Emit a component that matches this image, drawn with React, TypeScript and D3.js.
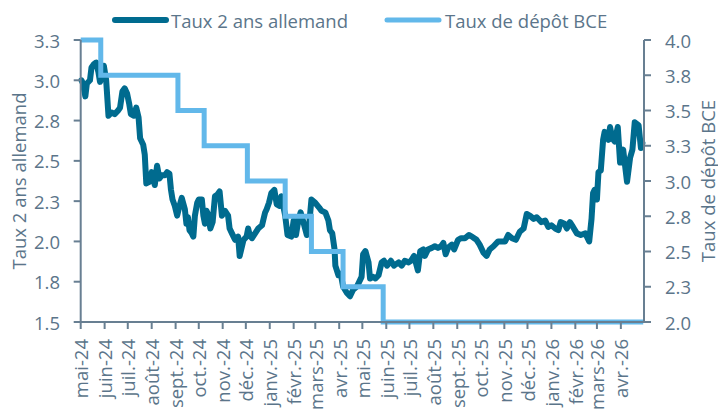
import React from "react";
import * as d3 from "d3";

// ---------- data ----------
const startDate = new Date(2024, 4, 1);
const endDate = new Date(2026, 4, 1);

// days since 1 May 2024
const yieldDays = [
  1, 3, 6, 8, 12, 14, 17, 20, 23, 25, 28, 30, 33, 36, 40, 44, 48, 51, 54, 57,
  60, 63, 65, 69, 72, 75, 77, 81, 83, 85, 89, 92, 94, 96, 99, 102, 105, 109, 112, 115,
  117, 119, 122, 125, 128, 131, 135, 137, 139, 141, 144, 146, 148, 151, 153, 157, 159, 161, 163, 165,
  168, 171, 174, 177, 180, 183, 187, 191, 193, 196, 200, 204, 206, 208, 211, 215, 217, 219, 222, 226,
  230, 235, 239, 241, 244, 247, 251, 254, 258, 260, 265, 268, 273, 276, 279, 282, 285, 288, 293, 296,
  299, 304, 309, 312, 317, 321, 323, 326, 329, 330, 334, 337, 340, 345, 349, 353, 358, 362, 364, 366,
  369, 373, 375, 379, 382, 386, 390, 393, 397, 402, 406, 412, 416, 420, 425, 428, 432, 437, 440, 444,
  446, 450, 455, 459, 463, 467, 470, 473, 476, 481, 484, 489, 493, 498, 503, 507, 510, 513, 517, 522,
  526, 530, 535, 541, 543, 550, 554, 559, 564, 569, 574, 578, 582, 587, 591, 597, 602, 606, 610, 615,
  619, 622, 627, 630, 634, 638, 643, 648, 654, 659, 662, 664, 666, 669, 671, 674, 677, 679, 684, 686,
  689, 692, 696, 699, 703, 708, 712, 715, 718, 723, 726, 728,
];
const yieldValues = [
  3.0, 2.98, 2.9, 2.98, 3.0, 3.08, 3.1, 3.11, 3.05, 2.99, 3.02, 3.09, 3.0, 2.78, 2.8, 2.79, 2.81, 2.83, 2.93, 2.95,
  2.92, 2.85, 2.79, 2.78, 2.83, 2.77, 2.64, 2.6, 2.54, 2.36, 2.37, 2.43, 2.39, 2.35, 2.47, 2.39, 2.41, 2.41, 2.43, 2.42,
  2.32, 2.26, 2.22, 2.16, 2.22, 2.27, 2.2, 2.11, 2.15, 2.07, 2.05, 2.03, 2.16, 2.24, 2.26, 2.26, 2.16, 2.11, 2.19, 2.17,
  2.08, 2.12, 2.28, 2.29, 2.31, 2.16, 2.19, 2.16, 2.08, 2.05, 2.01, 2.03, 1.91, 1.95, 2.01, 2.03, 2.08, 2.04, 2.02, 2.05,
  2.08, 2.1, 2.18, 2.2, 2.24, 2.3, 2.32, 2.23, 2.22, 2.28, 2.16, 2.04, 2.03, 2.13, 2.04, 2.13, 2.18, 2.13, 2.04, 2.1,
  2.26, 2.24, 2.21, 2.19, 2.18, 2.13, 2.07, 2.05, 1.95, 1.85, 1.79, 1.8, 1.72, 1.68, 1.66, 1.7, 1.72, 1.76, 1.78, 1.92,
  1.94, 1.87, 1.77, 1.78, 1.77, 1.79, 1.87, 1.88, 1.85, 1.88, 1.85, 1.87, 1.85, 1.88, 1.87, 1.88, 1.91, 1.82, 1.94, 1.95,
  1.91, 1.95, 1.96, 1.97, 1.96, 1.97, 1.99, 1.92, 1.96, 1.98, 1.95, 2.01, 2.02, 2.02, 2.04, 2.03, 2.02, 2.01, 1.98, 1.93,
  1.91, 1.95, 1.97, 2.0, 2.0, 2.0, 2.04, 2.02, 2.01, 2.06, 2.08, 2.17, 2.16, 2.14, 2.15, 2.12, 2.13, 2.09, 2.1, 2.08,
  2.07, 2.12, 2.11, 2.08, 2.12, 2.09, 2.05, 2.04, 2.05, 2.0, 2.14, 2.3, 2.32, 2.26, 2.43, 2.44, 2.63, 2.68, 2.63, 2.71,
  2.64, 2.62, 2.71, 2.49, 2.57, 2.37, 2.52, 2.57, 2.74, 2.72, 2.58, 2.61,
];

const ecbDays = [0, 26, 126, 160, 216, 265, 299, 340, 392, 729];
const ecbRates = [4.0, 3.75, 3.5, 3.25, 3.0, 2.75, 2.5, 2.25, 2.0, 2.0];

const monthLabels = [
  "mai-24", "juin-24", "juil.-24", "août-24", "sept.-24", "oct.-24", "nov.-24", "déc.-24",
  "janv.-25", "févr.-25", "mars-25", "avr.-25", "mai-25", "juin-25", "juil.-25", "août-25",
  "sept.-25", "oct.-25", "nov.-25", "déc.-25", "janv.-26", "févr.-26", "mars-26", "avr.-26",
];

const leftTicks = [1.5, 1.75, 2.0, 2.25, 2.5, 2.75, 3.0, 3.25];
const leftTickLabels = ["1.5", "1.8", "2.0", "2.3", "2.5", "2.8", "3.0", "3.3"];
const rightTicks = [2.0, 2.25, 2.5, 2.75, 3.0, 3.25, 3.5, 3.75, 4.0];
const rightTickLabels = ["2.0", "2.3", "2.5", "2.8", "3.0", "3.3", "3.5", "3.8", "4.0"];

const seriesNames = ["Taux 2 ans allemand", "Taux de dépôt BCE"];
const leftTitle = "Taux 2 ans allemand";
const rightTitle = "Taux de dépôt BCE";

// ---------- style ----------
const W = 718;
const H = 414;
const plot = { left: 80.7, right: 644, top: 40, bottom: 322 };
const darkColor = "#006b8f";
const lightColor = "#62b8ea";
const textColor = "#5b758a";
const axisColor = "#687f92";
const font = "'Open Sans', sans-serif";
const fs = 18.5;

const dayToDate = (d: number) => new Date(2024, 4, 1 + d);

export default function App() {
  const x = d3.scaleTime().domain([startDate, endDate]).range([plot.left, plot.right]);
  const yL = d3.scaleLinear().domain([1.5, 3.25]).range([plot.bottom, plot.top]);
  const yR = d3.scaleLinear().domain([2.0, 4.0]).range([plot.bottom, plot.top]);

  const yieldData = yieldDays.map((d, i) => ({ date: dayToDate(d), v: yieldValues[i] }));
  const ecbData = ecbDays.map((d, i) => ({ date: dayToDate(d), v: ecbRates[i] }));

  const yieldLine = d3
    .line<{ date: Date; v: number }>()
    .x((p) => x(p.date))
    .y((p) => yL(p.v))
    .curve(d3.curveLinear);
  const ecbLine = d3
    .line<{ date: Date; v: number }>()
    .x((p) => x(p.date))
    .y((p) => yR(p.v))
    .curve(d3.curveStepAfter);

  const monthDates = monthLabels.map((_, i) => new Date(2024, 4 + i, 1));

  return (
    <svg
      width={W}
      height={H}
      style={{ position: "absolute", left: 0, top: 0, background: "#fff" }}
      fontFamily={font}
    >
      {/* series */}
      <path
        d={yieldLine(yieldData) || ""}
        fill="none"
        stroke={darkColor}
        strokeWidth={6}
        strokeLinejoin="round"
        strokeLinecap="round"
      />
      <path
        d={ecbLine(ecbData) || ""}
        fill="none"
        stroke={lightColor}
        strokeWidth={5}
        strokeLinejoin="miter"
      />

      {/* left axis */}
      <line x1={plot.left} x2={plot.left} y1={plot.top} y2={plot.bottom} stroke={axisColor} strokeWidth={2} />
      {leftTicks.map((t, i) => (
        <g key={"l" + i}>
          <line x1={plot.left - 7} x2={plot.left} y1={yL(t)} y2={yL(t)} stroke={axisColor} strokeWidth={2} />
          <text
            x={60}
            y={yL(t)}
            textAnchor="end"
            dominantBaseline="central"
            fontSize={fs}
            fill={textColor}
          >
            {leftTickLabels[i]}
          </text>
        </g>
      ))}

      {/* right axis */}
      <line x1={plot.right} x2={plot.right} y1={plot.top} y2={plot.bottom} stroke={axisColor} strokeWidth={2} />
      {rightTicks.map((t, i) => (
        <g key={"r" + i}>
          <line x1={plot.right} x2={plot.right + 7} y1={yR(t)} y2={yR(t)} stroke={axisColor} strokeWidth={2} />
          <text
            x={665}
            y={yR(t)}
            textAnchor="start"
            dominantBaseline="central"
            fontSize={fs}
            fill={textColor}
          >
            {rightTickLabels[i]}
          </text>
        </g>
      ))}

      {/* bottom axis */}
      <line x1={plot.left} x2={plot.right} y1={plot.bottom} y2={plot.bottom} stroke={axisColor} strokeWidth={2} />
      {monthDates.map((d, i) => (
        <g key={"m" + i}>
          <line x1={x(d)} x2={x(d)} y1={plot.bottom} y2={plot.bottom + 7} stroke={axisColor} strokeWidth={2} />
          <text
            transform={`translate(${x(d)},339) rotate(-90)`}
            textAnchor="end"
            dominantBaseline="central"
            fontSize={fs}
            fill={textColor}
          >
            {monthLabels[i]}
          </text>
        </g>
      ))}

      {/* axis titles */}
      <text
        transform={`translate(18,${(plot.top + plot.bottom) / 2}) rotate(-90)`}
        textAnchor="middle"
        dominantBaseline="central"
        fontSize={fs}
        fill={textColor}
      >
        {leftTitle}
      </text>
      <text
        transform={`translate(707,${(plot.top + plot.bottom) / 2}) rotate(-90)`}
        textAnchor="middle"
        dominantBaseline="central"
        fontSize={fs}
        fill={textColor}
      >
        {rightTitle}
      </text>

      {/* legend */}
      <line x1={115} x2={166} y1={20} y2={20} stroke={darkColor} strokeWidth={6} strokeLinecap="round" />
      <text x={171} y={20} dominantBaseline="central" fontSize={fs} fill={textColor}>
        {seriesNames[0]}
      </text>
      <line x1={387} x2={439} y1={20} y2={20} stroke={lightColor} strokeWidth={5} strokeLinecap="round" />
      <text x={445} y={20} dominantBaseline="central" fontSize={fs} fill={textColor}>
        {seriesNames[1]}
      </text>
    </svg>
  );
}
